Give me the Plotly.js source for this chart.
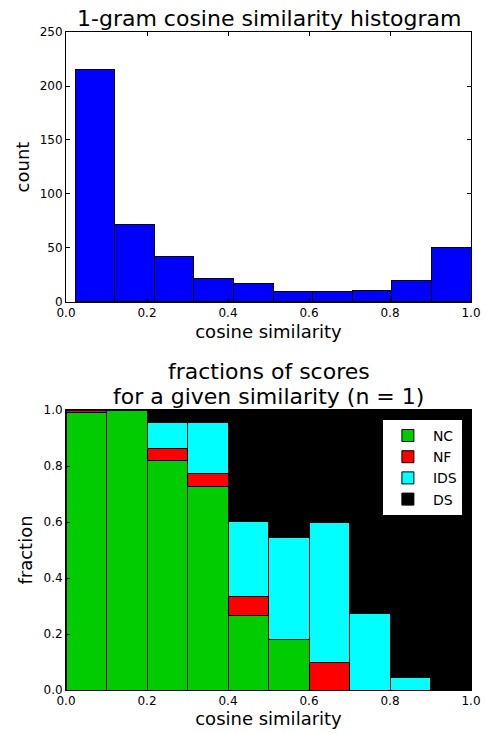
<!DOCTYPE html>
<html>
<head>
<meta charset="utf-8">
<script src="https://cdn.plot.ly/plotly-3.0.1.min.js"></script>
<style>html,body{margin:0;padding:0;background:#fff;}#chart{width:485px;height:733px;}</style>
</head>
<body>
<div id="chart"></div>
<script>
// Top histogram: bin edges (data min to max, 10 bins) and counts
const histEdges = [0.0225, 0.1203, 0.2180, 0.3158, 0.4135, 0.5113, 0.6090, 0.7068, 0.8045, 0.9023, 1.0];
const counts = [215, 72, 42, 22, 17, 10, 10, 11, 20, 50];

// Bottom stacked fractions per bin (bins of 0.1)
const fracEdges = [0.0, 0.1, 0.2, 0.3, 0.4, 0.5, 0.6, 0.7, 0.8, 0.9, 1.0];
const fracNC  = [0.990, 1.000, 0.818, 0.727, 0.267, 0.182, 0.000, 0.000, 0.000, 0.000];
const fracNF  = [0.010, 0.000, 0.045, 0.045, 0.067, 0.000, 0.100, 0.000, 0.000, 0.000];
const fracIDS = [0.000, 0.000, 0.091, 0.182, 0.267, 0.364, 0.500, 0.273, 0.043, 0.000];
const fracDS  = [0.000, 0.000, 0.045, 0.045, 0.400, 0.455, 0.400, 0.727, 0.957, 1.000];

const seriesNames = ['NC', 'NF', 'IDS', 'DS'];
const seriesColors = ['#00cc00', '#ff0000', '#00ffff', '#000000'];
const seriesData = [fracNC, fracNF, fracIDS, fracDS];

const FONT = 'DejaVu Sans, sans-serif';

function centers(e) { return e.slice(0, -1).map((v, i) => (v + e[i + 1]) / 2); }
function widthsOf(e) { return e.slice(0, -1).map((v, i) => e[i + 1] - v); }

const traces = [{
  type: 'bar', x: centers(histEdges), y: counts, width: widthsOf(histEdges),
  marker: {color: '#0000ff', line: {color: '#000000', width: 1}},
  xaxis: 'x', yaxis: 'y', showlegend: false, hoverinfo: 'x+y'
}];
seriesData.forEach((d, i) => {
  traces.push({
    type: 'bar', x: centers(fracEdges), y: d, width: widthsOf(fracEdges), name: seriesNames[i],
    marker: {color: seriesColors[i], line: {color: '#000000', width: 1}},
    xaxis: 'x2', yaxis: 'y2'
  });
});

const axisCommon = {
  showline: true, linecolor: '#000', linewidth: 1, mirror: 'ticks',
  ticks: 'inside', ticklen: 4, tickcolor: '#000', showgrid: false, zeroline: false,
  tickfont: {family: FONT, size: 12, color: '#000'}
};

const layout = {
  width: 485, height: 733,
  margin: {l: 66, r: 14, t: 32, b: 43},
  paper_bgcolor: '#fff', plot_bgcolor: '#fff',
  barmode: 'stack', bargap: 0,
  font: {family: FONT, color: '#000'},
  xaxis: Object.assign({}, axisCommon, {
    domain: [0, 1], anchor: 'y', range: [0, 1], dtick: 0.2, tick0: 0, tickformat: '.1f',
    title: {text: 'cosine similarity', font: {family: FONT, size: 18}, standoff: 6}
  }),
  yaxis: Object.assign({}, axisCommon, {
    domain: [0.5897, 1], anchor: 'x', range: [0, 250], dtick: 50,
    title: {text: 'count', font: {family: FONT, size: 18}, standoff: 5}
  }),
  xaxis2: Object.assign({}, axisCommon, {
    domain: [0, 1], anchor: 'y2', range: [0, 1], dtick: 0.2, tick0: 0, tickformat: '.1f',
    title: {text: 'cosine similarity', font: {family: FONT, size: 18}, standoff: 2}
  }),
  yaxis2: Object.assign({}, axisCommon, {
    domain: [0, 0.4255], anchor: 'x2', range: [0, 1], dtick: 0.2, tickformat: '.1f',
    title: {text: 'fraction', font: {family: FONT, size: 18}, standoff: 6}
  }),
  legend: {
    x: 0.78, y: 0.412, xanchor: 'left', yanchor: 'top',
    bgcolor: '#fff', bordercolor: '#000', borderwidth: 1, itemwidth: 40,
    font: {family: FONT, size: 14, color: '#000'}, traceorder: 'normal'
  },
  annotations: [
    {text: '1-gram cosine similarity histogram', xref: 'paper', yref: 'paper',
     x: 0.5, y: 1.0198, xanchor: 'center', yanchor: 'middle', showarrow: false,
     font: {family: FONT, size: 22, color: '#000'}},
    {text: 'fractions of scores', xref: 'paper', yref: 'paper',
     x: 0.5, y: 0.4833, xanchor: 'center', yanchor: 'middle', showarrow: false,
     font: {family: FONT, size: 22, color: '#000'}},
    {text: 'for a given similarity (n = 1)', xref: 'paper', yref: 'paper',
     x: 0.5, y: 0.4453, xanchor: 'center', yanchor: 'middle', showarrow: false,
     font: {family: FONT, size: 22, color: '#000'}}
  ]
};

Plotly.newPlot('chart', traces, layout, {displayModeBar: false, staticPlot: true});
</script>
</body>
</html>
